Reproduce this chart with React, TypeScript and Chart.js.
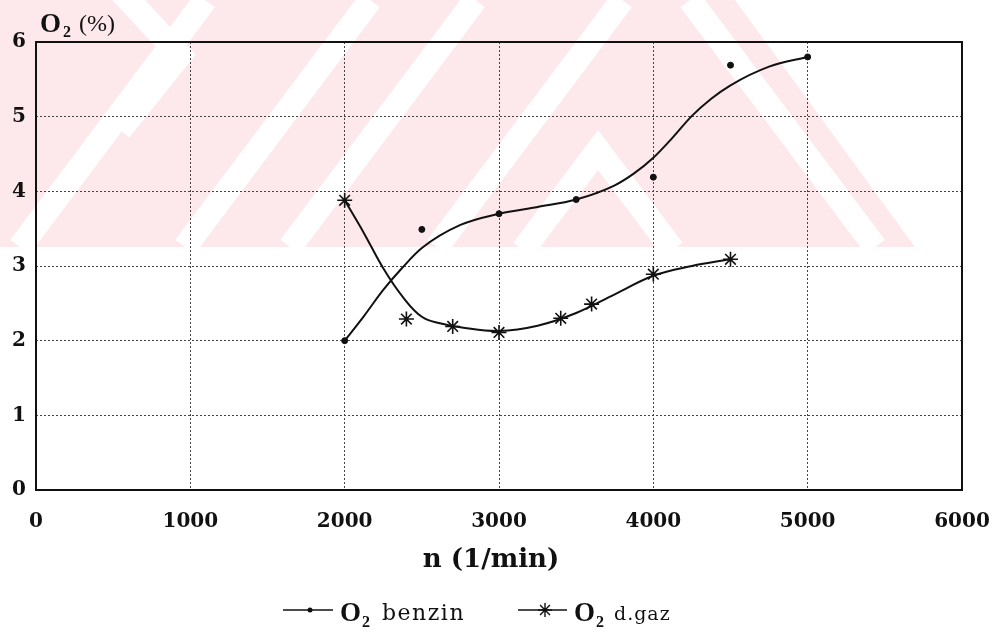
import React, { useEffect, useRef } from "react";
import { Chart, registerables } from "chart.js";

Chart.register(...registerables);

// ---- data ----
const xTickLabels = ["0", "1000", "2000", "3000", "4000", "5000", "6000"];
const yTickLabels = ["0", "1", "2", "3", "4", "5", "6"];

const benzinRpm = [2000, 2500, 3000, 3500, 4000, 4500, 5000];
const benzinO2 = [2.0, 3.49, 3.7, 3.89, 4.19, 5.69, 5.8];

const benzinFitRpm = [2000, 2125, 2250, 2375, 2500, 2750, 3000, 3250, 3500, 3750, 3875, 4000, 4125, 4250, 4375, 4500, 4750, 5000];
const benzinFitO2 = [2.0, 2.33, 2.68, 2.98, 3.24, 3.55, 3.7, 3.79, 3.89, 4.08, 4.24, 4.45, 4.72, 5.01, 5.24, 5.42, 5.67, 5.8];

const dgazRpm = [2000, 2400, 2700, 3000, 3400, 3600, 4000, 4500];
const dgazO2 = [3.88, 2.29, 2.19, 2.11, 2.3, 2.49, 2.89, 3.09];

const dgazFitRpm = [2000, 2125, 2250, 2375, 2500, 2625, 2750, 3000, 3250, 3500, 3750, 4000, 4250, 4500];
const dgazFitO2 = [3.88, 3.44, 2.97, 2.59, 2.32, 2.23, 2.18, 2.13, 2.2, 2.37, 2.62, 2.87, 3.0, 3.09];

const pts = (xs: number[], ys: number[]) => xs.map((x, i) => ({ x, y: ys[i] }));

const INK = "#111";
const TICK_FONT = { family: "'DejaVu Serif', serif", weight: "bold" as const, size: 20 };

// decorative background watermark (scan artefact of the source page)
const watermark = {
  id: "watermark",
  beforeDraw(chart: any) {
    const ctx = chart.ctx as CanvasRenderingContext2D;
    ctx.save();
    ctx.fillStyle = "#fff";
    ctx.fillRect(0, 0, chart.width, chart.height);
    ctx.beginPath();
    ctx.moveTo(0, 0);
    ctx.lineTo(735, 0);
    ctx.lineTo(915, 247);
    ctx.lineTo(0, 247);
    ctx.closePath();
    ctx.clip();
    ctx.fillStyle = "#fde8ec";
    ctx.fillRect(0, 0, 996, 247);
    ctx.strokeStyle = "#fff";
    ctx.lineWidth = 24;
    const k = 0.75;
    for (const b of [20, 185, 290, 437]) {
      ctx.beginPath();
      ctx.moveTo(b, 247);
      ctx.lineTo(b + k * 247, 0);
      ctx.stroke();
    }
    ctx.beginPath();
    ctx.moveTo(598 - k * 100, 250);
    ctx.lineTo(598, 150);
    ctx.lineTo(598 + k * 100, 250);
    ctx.stroke();
    ctx.beginPath();
    ctx.moveTo(690, 0);
    ctx.lineTo(690 + k * 247, 247);
    ctx.stroke();
    ctx.beginPath();
    ctx.moveTo(110, -20);
    ctx.lineTo(180, 55);
    ctx.lineTo(120, 130);
    ctx.stroke();
    ctx.restore();
  },
};

const frame = {
  id: "frame",
  beforeDatasetsDraw(chart: any) {
    const { ctx, chartArea: a } = chart;
    ctx.save();
    ctx.strokeStyle = INK;
    ctx.lineWidth = 2;
    ctx.strokeRect(a.left, a.top, a.right - a.left, a.bottom - a.top);
    ctx.restore();
  },
};

const texts = {
  id: "texts",
  afterDraw(chart: any) {
    const ctx = chart.ctx as CanvasRenderingContext2D;
    ctx.save();
    ctx.fillStyle = INK;
    ctx.textAlign = "left";
    ctx.textBaseline = "alphabetic";
    ctx.font = "bold 27px 'Liberation Serif', serif";
    ctx.fillText("O", 40, 32);
    ctx.font = "bold 16px 'Liberation Serif', serif";
    ctx.fillText("2", 63, 37);
    ctx.font = "24px 'Liberation Serif', serif";
    ctx.fillText("(%)", 79, 31);
    ctx.textAlign = "center";
    ctx.font = "bold 26px 'DejaVu Serif', serif";
    ctx.fillText("n (1/min)", 491, 567);
    ctx.textAlign = "left";

    const ly = 610;
    ctx.strokeStyle = INK;
    ctx.lineWidth = 1.5;
    ctx.beginPath();
    ctx.moveTo(283, ly);
    ctx.lineTo(333, ly);
    ctx.stroke();
    ctx.beginPath();
    ctx.arc(310, ly, 2.5, 0, Math.PI * 2);
    ctx.fill();
    ctx.font = "bold 27px 'Liberation Serif', serif";
    ctx.fillText("O", 340, 621);
    ctx.font = "bold 16px 'Liberation Serif', serif";
    ctx.fillText("2", 362, 627);
    ctx.font = "22px 'DejaVu Serif', serif";
    (ctx as any).letterSpacing = "1.5px";
    ctx.fillText("benzin", 382, 620);
    (ctx as any).letterSpacing = "0px";

    ctx.beginPath();
    ctx.moveTo(518, ly);
    ctx.lineTo(567, ly);
    ctx.stroke();
    const sx = 545, r = 7;
    ctx.lineWidth = 1.4;
    ctx.beginPath();
    for (let k = 0; k < 4; k++) {
      const ang = (k * Math.PI) / 4;
      ctx.moveTo(sx - r * Math.cos(ang), ly - r * Math.sin(ang));
      ctx.lineTo(sx + r * Math.cos(ang), ly + r * Math.sin(ang));
    }
    ctx.stroke();
    ctx.font = "bold 27px 'Liberation Serif', serif";
    ctx.fillText("O", 574, 621);
    ctx.font = "bold 16px 'Liberation Serif', serif";
    ctx.fillText("2", 596, 627);
    ctx.font = "19px 'DejaVu Serif', serif";
    (ctx as any).letterSpacing = "1px";
    ctx.fillText("d.gaz", 614, 620);
    (ctx as any).letterSpacing = "0px";
    ctx.restore();
  },
};

export default function App() {
  const ref = useRef<HTMLCanvasElement>(null);
  useEffect(() => {
    document.body.style.margin = "0";
    const canvas = ref.current!;
    const chart = new Chart(canvas, {
      type: "scatter",
      data: {
        datasets: [
          {
            type: "line",
            label: "O2 benzin fit",
            data: pts(benzinFitRpm, benzinFitO2),
            borderColor: INK,
            borderWidth: 2,
            pointRadius: 0,
            cubicInterpolationMode: "monotone",
            fill: false,
          } as any,
          {
            type: "scatter",
            label: "O2 benzin",
            data: pts(benzinRpm, benzinO2),
            pointStyle: "circle",
            pointRadius: 3,
            backgroundColor: INK,
            borderColor: INK,
          },
          {
            type: "line",
            label: "O2 d.gaz fit",
            data: pts(dgazFitRpm, dgazFitO2),
            borderColor: INK,
            borderWidth: 2,
            pointRadius: 0,
            tension: 0.4,
            fill: false,
          } as any,
          {
            type: "scatter",
            label: "O2 d.gaz",
            data: pts(dgazRpm, dgazO2),
            pointStyle: "star",
            pointRadius: 7.5,
            borderWidth: 1.6,
            backgroundColor: INK,
            borderColor: INK,
          },
        ],
      },
      options: {
        responsive: false,
        animation: false,
        layout: { padding: { top: 42, right: 34, left: 0, bottom: 0 } },
        plugins: { legend: { display: false }, tooltip: { enabled: false } },
        scales: {
          x: {
            type: "linear",
            min: 0,
            max: 6000,
            ticks: {
              stepSize: 1000,
              padding: 20,
              maxRotation: 0,
              color: INK,
              font: TICK_FONT,
              callback: (_v: any, i: number) => xTickLabels[i],
            },
            grid: { drawTicks: false, color: "#444", lineWidth: 1 },
            border: { display: false, dash: [2, 2] },
            afterFit: (s: any) => {
              s.height = 143;
              s.paddingLeft = 0;
              s.paddingRight = 0;
            },
          },
          y: {
            min: 0,
            max: 6,
            ticks: {
              stepSize: 1,
              padding: 10,
              color: INK,
              font: TICK_FONT,
              callback: (_v: any, i: number) => yTickLabels[i],
            },
            grid: { drawTicks: false, color: "#444", lineWidth: 1 },
            border: { display: false, dash: [2, 2] },
            afterFit: (s: any) => {
              s.width = 36;
              s.paddingTop = 0;
              s.paddingBottom = 0;
            },
          },
        },
      } as any,
      plugins: [watermark, frame, texts],
    });
    return () => chart.destroy();
  }, []);
  return <canvas ref={ref} width={996} height={633} style={{ display: "block" }} />;
}
